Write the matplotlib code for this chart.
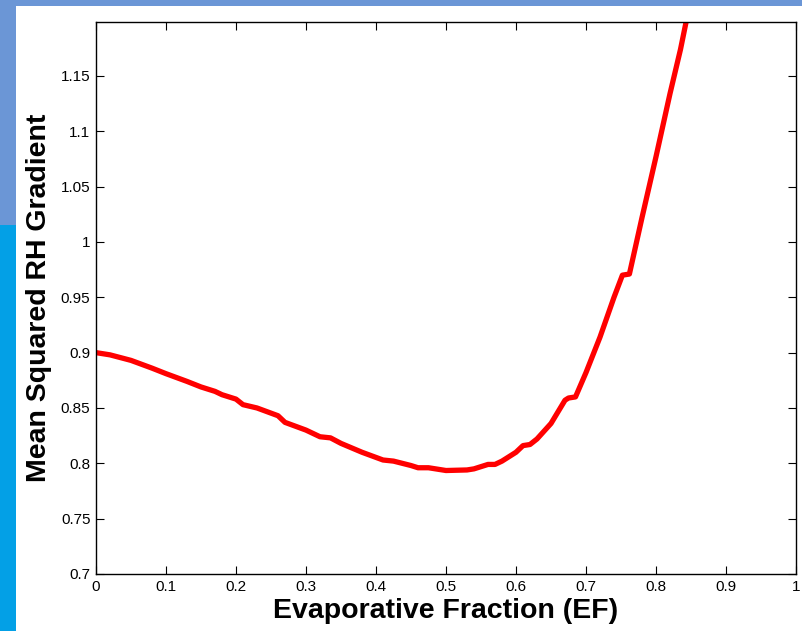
import matplotlib
matplotlib.use("Agg")
import matplotlib.pyplot as plt
from matplotlib.patches import Rectangle

ef = [0, 0.02, 0.05, 0.08, 0.1, 0.13, 0.15, 0.17, 0.18, 0.2, 0.21, 0.23, 0.26,
      0.27, 0.3, 0.32, 0.335, 0.35, 0.38, 0.41, 0.425, 0.45, 0.46, 0.475, 0.5,
      0.53, 0.54, 0.56, 0.57, 0.58, 0.6, 0.61, 0.62, 0.63, 0.65, 0.67, 0.675,
      0.685, 0.7, 0.72, 0.74, 0.752, 0.762, 0.78, 0.8, 0.82, 0.835, 0.845]
rh_grad = [0.900, 0.898, 0.893, 0.886, 0.881, 0.874, 0.869, 0.865, 0.862, 0.858,
           0.853, 0.850, 0.843, 0.837, 0.830, 0.824, 0.823, 0.818, 0.810, 0.803,
           0.802, 0.798, 0.796, 0.796, 0.7935, 0.794, 0.795, 0.799, 0.799, 0.802,
           0.810, 0.816, 0.817, 0.822, 0.836, 0.857, 0.859, 0.860, 0.882, 0.914,
           0.950, 0.970, 0.971, 1.022, 1.077, 1.134, 1.174, 1.205]

x_ticks = [0, 0.1, 0.2, 0.3, 0.4, 0.5, 0.6, 0.7, 0.8, 0.9, 1.0]
x_tick_labels = ["0", "0.1", "0.2", "0.3", "0.4", "0.5", "0.6", "0.7", "0.8", "0.9", "1"]
y_ticks = [0.7, 0.75, 0.8, 0.85, 0.9, 0.95, 1.0, 1.05, 1.1, 1.15]
y_tick_labels = ["0.7", "0.75", "0.8", "0.85", "0.9", "0.95", "1", "1.05", "1.1", "1.15"]

plt.rcParams['font.family'] = ['Liberation Sans', 'DejaVu Sans']

W, H = 803, 631
fig = plt.figure(figsize=(W / 100, H / 100), dpi=100)
fig.patch.set_facecolor('white')

# background decoration bands
fig.patches.append(Rectangle((0, 1 - 6 / H), 1, 6 / H, transform=fig.transFigure,
                             facecolor='#6b96d6', edgecolor='none', zorder=0))
fig.patches.append(Rectangle((0, 1 - 225 / H), 16 / W, 225 / H, transform=fig.transFigure,
                             facecolor='#6b96d6', edgecolor='none', zorder=0))
fig.patches.append(Rectangle((0, 0), 16 / W, 1 - 225 / H, transform=fig.transFigure,
                             facecolor='#03a0e6', edgecolor='none', zorder=0))

ax = fig.add_axes([96 / W, 1 - 574 / H, 700 / W, (574 - 21.7) / H])
ax.plot(ef, rh_grad, color='#ff0000', lw=3.8, solid_capstyle='butt', solid_joinstyle='round')
ax.set_xlim(0, 1)
ax.set_ylim(0.7, 1.199)
ax.set_xticks(x_ticks)
ax.set_xticklabels(x_tick_labels)
ax.set_yticks(y_ticks)
ax.set_yticklabels(y_tick_labels)
ax.tick_params(direction='in', length=6, width=0.8, labelsize=11, top=True, right=True,
               pad=4, colors='black')
for s in ax.spines.values():
    s.set_linewidth(1.0)
ax.set_xlabel('Evaporative Fraction (EF)', fontsize=20.5, fontweight='bold', labelpad=3)
ax.set_ylabel('Mean Squared RH Gradient', fontsize=20.5, fontweight='bold', labelpad=6)

fig.savefig('out.png', dpi=100)
